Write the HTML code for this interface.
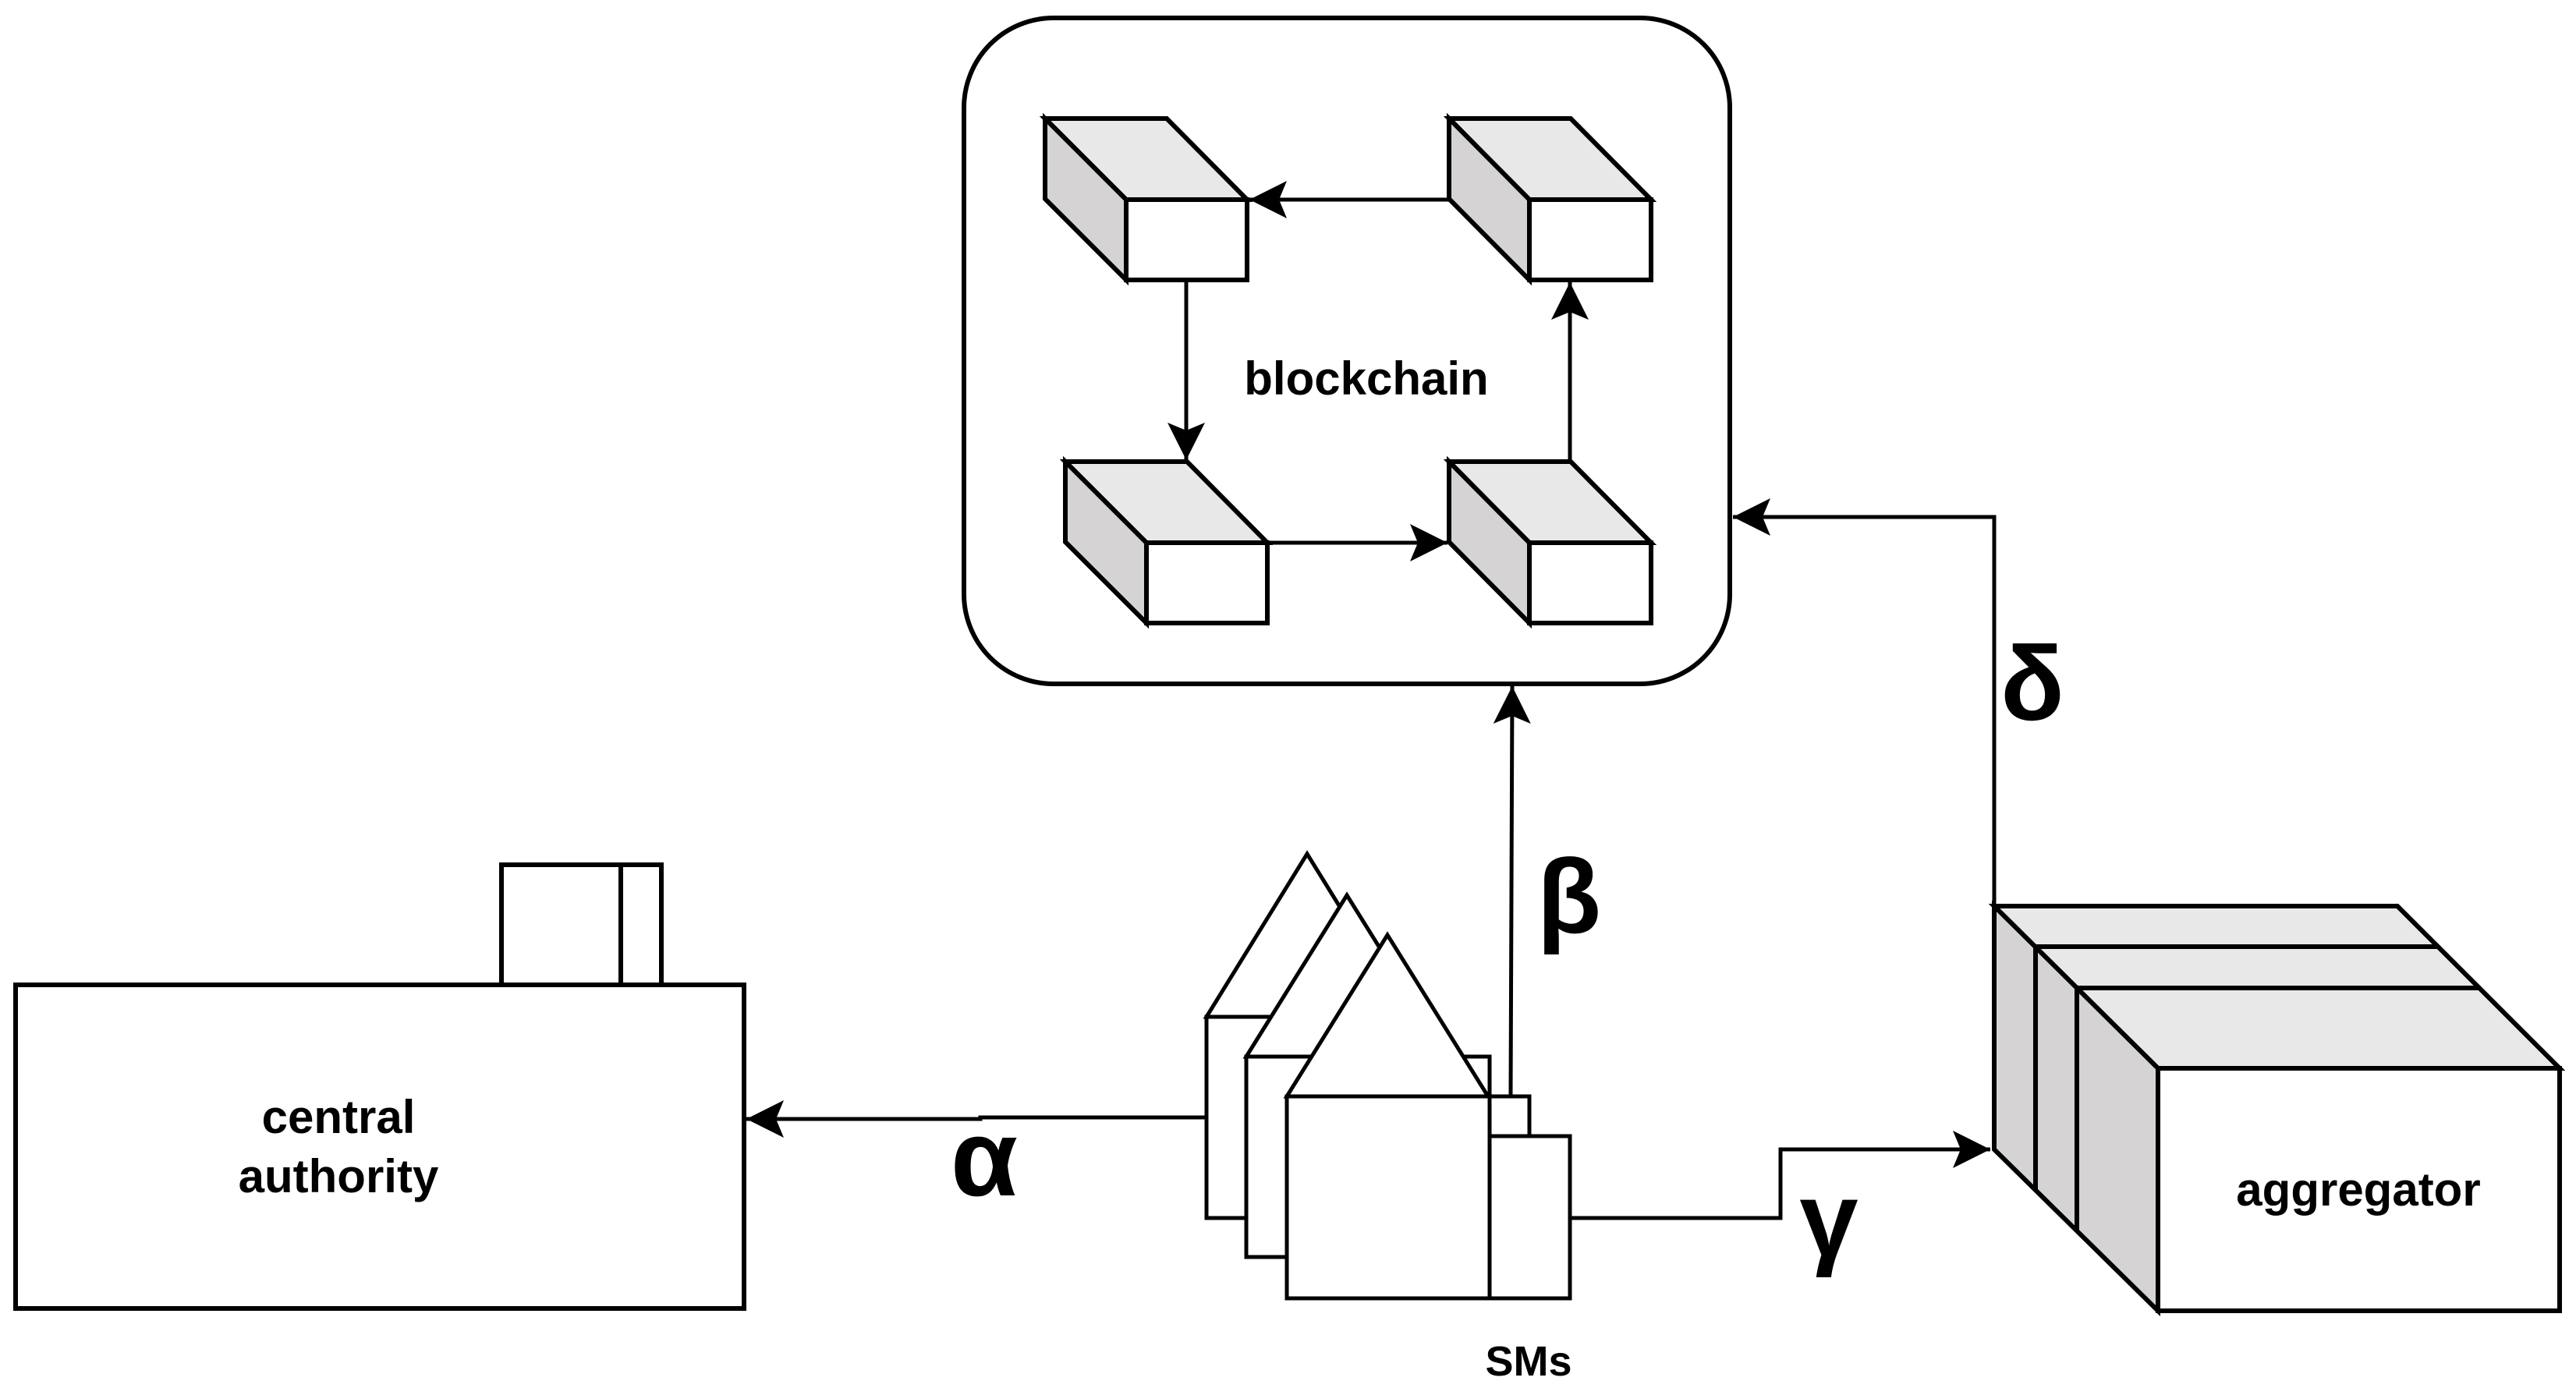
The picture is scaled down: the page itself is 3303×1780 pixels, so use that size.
<!DOCTYPE html>
<html><head><meta charset="utf-8"><style>
html,body{margin:0;padding:0;background:#fff;}
svg{display:block;}
text{font-family:"Liberation Sans",Arial,sans-serif;font-weight:bold;fill:#000;}
</style></head><body>
<svg width="3303" height="1780" viewBox="0 0 3303 1780" xmlns="http://www.w3.org/2000/svg">
<defs>
<marker id="ar" viewBox="0 0 48 48" refX="48" refY="24" markerWidth="48" markerHeight="48" markerUnits="userSpaceOnUse" orient="auto">
<path d="M0,0 L48,24 L0,48 L10,24 Z" fill="#000"/>
</marker>
</defs>
<g stroke="#000" stroke-width="6" stroke-linejoin="miter">
<rect x="1236" y="23" width="982" height="854" rx="115" ry="115" fill="#fff"/>
</g>
<g stroke="#000" stroke-width="6" stroke-linejoin="miter">
<polygon points="1340,152 1496,152 1599,256 1444,256" fill="#e8e8e8"/>
<polygon points="1340,152 1444,256 1444,359 1340,255" fill="#d5d3d4"/>
<rect x="1444" y="256" width="155" height="103" fill="#fff"/>
<polygon points="1858,152 2014,152 2117,256 1961,256" fill="#e8e8e8"/>
<polygon points="1858,152 1961,256 1961,359 1858,255" fill="#d5d3d4"/>
<rect x="1961" y="256" width="156" height="103" fill="#fff"/>
<polygon points="1366,592 1522,592 1625,696 1470,696" fill="#e8e8e8"/>
<polygon points="1366,592 1470,696 1470,799 1366,695" fill="#d5d3d4"/>
<rect x="1470" y="696" width="155" height="103" fill="#fff"/>
<polygon points="1858,592 2014,592 2117,696 1961,696" fill="#e8e8e8"/>
<polygon points="1858,592 1961,696 1961,799 1858,695" fill="#d5d3d4"/>
<rect x="1961" y="696" width="156" height="103" fill="#fff"/>
</g>
<g stroke="#000" stroke-width="5" fill="none">
<line x1="1858" y1="256" x2="1602" y2="256" marker-end="url(#ar)"/>
<line x1="1521" y1="359" x2="1521" y2="590" marker-end="url(#ar)"/>
<line x1="1625" y1="696" x2="1856" y2="696" marker-end="url(#ar)"/>
<line x1="2013" y1="592" x2="2013" y2="362" marker-end="url(#ar)"/>
<polyline points="2557,1162 2557,663 2222,663" marker-end="url(#ar)"/>
<polyline points="1937,1406 1939,880" marker-end="url(#ar)"/>
<polyline points="1547,1433 1257,1433 1257,1435 957,1435" marker-end="url(#ar)"/>
<polyline points="2013,1562 2283,1562 2283,1474 2552,1474" marker-end="url(#ar)"/>
</g>
<text x="1752" y="506" font-size="60" text-anchor="middle">blockchain</text>

<g stroke="#000" stroke-width="6" fill="#fff">
<rect x="643" y="1109" width="205" height="154"/>
<line x1="796" y1="1109" x2="796" y2="1263"/>
<rect x="20" y="1263" width="934" height="415"/>
</g>
<text x="434" y="1453" font-size="60" text-anchor="middle">central</text>
<text x="434" y="1529" font-size="60" text-anchor="middle">authority</text>
<text x="1262" y="1533" font-size="140" text-anchor="middle">α</text>

<g stroke="#000" stroke-width="5" fill="#fff" stroke-linejoin="miter">
<rect x="1547" y="1304" width="260" height="258"/>
<polygon points="1547,1304 1676,1095 1805,1304"/>
<rect x="1598" y="1355" width="312" height="257"/>
<polygon points="1598,1355 1727,1148 1856,1355"/>
<rect x="1650" y="1406" width="260" height="259"/>
<polygon points="1650,1406 1779,1199 1908,1406"/>
<rect x="1910" y="1406" width="51" height="51"/>
<rect x="1910" y="1457" width="103" height="208"/>
</g>
<text x="1960" y="1764" font-size="54" text-anchor="middle">SMs</text>
<text x="2012" y="1196" font-size="135" text-anchor="middle">β</text>
<text x="2345" y="1610" font-size="135" text-anchor="middle">γ</text>
<text x="2606" y="923" font-size="135" text-anchor="middle">δ</text>

<g stroke="#000" stroke-width="6" stroke-linejoin="miter">
<polygon points="2557,1162 3074,1162 3282,1370 2767,1370" fill="#e8e8e8"/>
<polygon points="2557,1162 2767,1370 2767,1681 2557,1474" fill="#d5d3d4"/>
<line x1="2610" y1="1214" x2="3126" y2="1214"/>
<line x1="2663" y1="1267" x2="3178" y2="1267"/>
<line x1="2610" y1="1214" x2="2610" y2="1526"/>
<line x1="2663" y1="1267" x2="2663" y2="1578"/>
<rect x="2767" y="1370" width="515" height="311" fill="#fff"/>
</g>
<text x="3024" y="1546" font-size="60" text-anchor="middle">aggregator</text>
</svg>
</body></html>
